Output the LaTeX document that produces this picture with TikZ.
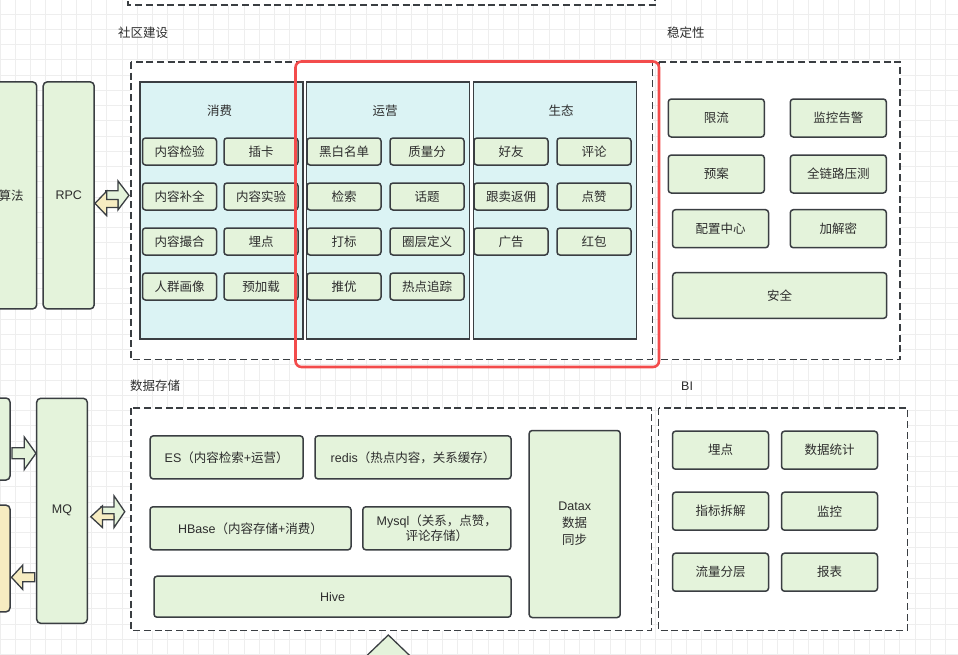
\documentclass[tikz,border=0pt]{standalone}
\usepackage{fontspec}
\setmainfont{Noto Sans CJK SC}
\newfontfamily\lat{Liberation Sans}
\definecolor{linec}{RGB}{58,62,66}
\definecolor{textc}{RGB}{45,45,45}
\definecolor{itemg}{RGB}{228,243,219}
\definecolor{panelc}{RGB}{219,243,244}
\definecolor{yel}{RGB}{246,236,193}
\definecolor{redc}{RGB}{243,76,76}
\definecolor{gridc}{RGB}{238,238,238}
% fat arrow: style, tip, angle, head length, head half width, shaft length, shaft half width
\newcommand{\fatarrow}[7]{%
  \draw[#1, shift={#2}, rotate=#3] (0,0) -- (-#4,#5) -- (-#4,#7) -- ({-#4-#6},#7)
    -- ({-#4-#6},-#7) -- (-#4,-#7) -- (-#4,-#5) -- cycle;}
\begin{document}
\begin{tikzpicture}[x=1pt,y=-1pt,
  every node/.style={text=textc, font=\fontsize{12.5}{15}\selectfont},
  itembox/.style={draw=linec, fill=itemg, line width=1.5pt, rounded corners=3pt,
    inner sep=0pt, minimum width=74pt, minimum height=27pt},
  bigbox/.style={itembox, minimum width=96pt, minimum height=38pt},
  panelbox/.style={draw=linec, fill=panelc, line width=1.5pt, inner sep=0pt,
    minimum width=163pt, minimum height=257pt},
  groupbox/.style={draw=linec, fill=white, line width=1.5pt, dash pattern=on 7pt off 3.7pt},
  grouptitle/.style={anchor=west, inner sep=0pt},
  gridline/.style={gridc, line width=0.8pt},
  fatg/.style={draw=linec, fill=itemg, line width=1.3pt},
  faty/.style={draw=linec, fill=yel, line width=1.3pt},
  redbox/.style={draw=redc, line width=2.6pt, rounded corners=6pt}]
  \useasboundingbox (0,0) rectangle (958,654);
  \clip (0,0) rectangle (958,654);
  % background grid
  \foreach \gx in {0,...,62} \draw[gridline] ({15.25*\gx},0) -- ({15.25*\gx},654);
  \foreach \gy in {0,...,42} \draw[gridline] (0,{14+15.25*\gy}) -- (958,{14+15.25*\gy});

  % groups
  \draw[groupbox] (128,-20) rectangle (655,5);
  \draw[groupbox] (131,62) rectangle (652.5,359.5);
  \draw[groupbox] (659,62) rectangle (900,359.5);
  \draw[groupbox] (131,408) rectangle (651.5,630.5);
  \draw[groupbox] (658.5,408) rectangle (907.5,630.5);
  \node[grouptitle] (tShequ) at (118,33) {社区建设};
  \node[grouptitle] (tWending) at (667,33) {稳定性};
  \node[grouptitle] (tCunchu) at (130,386) {数据存储};
  \node[grouptitle] (tBI) at (681,386.5) {\lat BI};

  % 社区建设
  \node[panelbox] (xiaofei) at (221.5,210.5) {};
  \node[panelbox] (yunying) at (388,210.5) {};
  \node[panelbox] (shengtai) at (555,210.5) {};
  \node (xiaofeiT) at (219.5,111) {消费};
  \node (yunyingT) at (385,111) {运营};
  \node (shengtaiT) at (561,111) {生态};
  \foreach \t [count=\i from 0] in {内容检验,插卡,内容补全,内容实验,内容撮合,埋点,人群画像,预加载}{
    \pgfmathtruncatemacro{\cc}{mod(\i,2)}
    \pgfmathtruncatemacro{\rr}{\i/2}
    \node[itembox] (xf\i) at ({179.5+81.5*\cc},{151.5+45*\rr}) {\t};
  }
  \foreach \t [count=\i from 0] in {黑白名单,质量分,检索,话题,打标,圈层定义,推优,热点追踪}{
    \pgfmathtruncatemacro{\cc}{mod(\i,2)}
    \pgfmathtruncatemacro{\rr}{\i/2}
    \node[itembox] (yy\i) at ({344+83*\cc},{151.5+45*\rr}) {\t};
  }
  \foreach \t [count=\i from 0] in {好友,评论,跟卖返佣,点赞,广告,红包}{
    \pgfmathtruncatemacro{\cc}{mod(\i,2)}
    \pgfmathtruncatemacro{\rr}{\i/2}
    \node[itembox] (st\i) at ({511+83*\cc},{151.5+45*\rr}) {\t};
  }

  % 稳定性
  \node[bigbox] (xianliu) at (716.3,118) {限流};
  \node[bigbox] (gaojing) at (838.3,118) {监控告警};
  \node[bigbox] (yuan) at (716.3,174) {预案};
  \node[bigbox] (yace) at (838.3,174) {全链路压测};
  \node[bigbox] (peizhi) at (720.5,228.7) {配置中心};
  \node[bigbox] (jiemi) at (838.3,228.7) {加解密};
  \node[bigbox, minimum width=214pt, minimum height=45.6pt] (anquan) at (779.7,295.5) {安全};

  % BI
  \foreach \t [count=\i from 0] in {埋点,数据统计,指标拆解,监控,流量分层,报表}{
    \pgfmathtruncatemacro{\cc}{mod(\i,2)}
    \pgfmathtruncatemacro{\rr}{\i/2}
    \node[bigbox] (bi\i) at ({720.5+109*\cc},{450.2+61*\rr}) {\t};
  }

  % 数据存储
  \node[itembox, minimum width=153pt, minimum height=43pt] (es) at (226.7,457.4)
    {{\lat ES}（内容检索{\lat +}运营）};
  \node[itembox, minimum width=196pt, minimum height=43pt] (redis) at (413,457.4)
    {{\lat redis}（热点内容，关系缓存）};
  \node[itembox, minimum width=201pt, minimum height=43pt] (hbase) at (250.5,528.3)
    {{\lat HBase}（内容存储{\lat +}消费）};
  \node[itembox, minimum width=148pt, minimum height=43pt, align=center] (mysql) at (436.8,528.3)
    {{\lat Mysql}（关系，点赞，\\评论存储）};
  \node[itembox, minimum width=357pt, minimum height=41pt] (hive) at (332.5,596.7) {\lat Hive};
  \node[itembox, minimum width=91pt, minimum height=187pt, align=center,
    font=\fontsize{12.5}{17}\selectfont] (datax) at (574.7,524) {{\lat Datax}\\数据\\同步};

  % left side
  \node[itembox, rounded corners=4pt, minimum width=51pt, minimum height=227pt] (suanfa) at (11.2,195.4) {算法};
  \node[itembox, rounded corners=4pt, minimum width=51pt, minimum height=227pt] (rpc) at (68.7,195.4) {\lat RPC};
  \node[itembox, rounded corners=4pt, minimum width=50.6pt, minimum height=225pt] (mq) at (62,510.8) {\lat MQ};
  \node[itembox, rounded corners=4pt, minimum width=50pt, minimum height=82pt] (src) at (-15,439) {};
  \node[itembox, rounded corners=4pt, fill=yel, minimum width=50pt, minimum height=106.7pt] (sink) at (-15,558.5) {};

  % fat arrows
  \coordinate (rpcIn) at ([xshift=34pt]rpc.east);
  \coordinate (rpcOut) at ([yshift=-8pt]rpc.east);
  \coordinate (mqIn) at ([yshift=57.5pt]mq.west);
  \coordinate (sinkIn) at ([xshift=0.7pt,yshift=-18.8pt]sink.east);
  \coordinate (storeIn) at ([xshift=36.7pt,yshift=-0.9pt]mq.east);
  \coordinate (mqBack) at ([xshift=2.7pt,yshift=-5.9pt]mq.east);
  \coordinate (storeUp) at (388.3,635);
  \fatarrow{fatg}{(rpcIn)}{0}{11}{14.5}{12.3}{4.6}
  \fatarrow{faty}{(rpcOut)}{180}{11.7}{12.2}{11.3}{4}
  \fatarrow{fatg}{(mqIn)}{0}{11.7}{16.3}{12.3}{5.5}
  \fatarrow{faty}{(sinkIn)}{180}{11.3}{12.2}{12}{4.5}
  \fatarrow{fatg}{(storeIn)}{0}{10.7}{15.8}{13.3}{4.7}
  \fatarrow{faty}{(mqBack)}{180}{11.7}{10.8}{11.6}{3}
  \fatarrow{fatg}{(storeUp)}{90}{24}{25}{20}{10}

  % highlight
  \draw[redbox] (295.5,61.5) rectangle (659,367);
\end{tikzpicture}
\end{document}
